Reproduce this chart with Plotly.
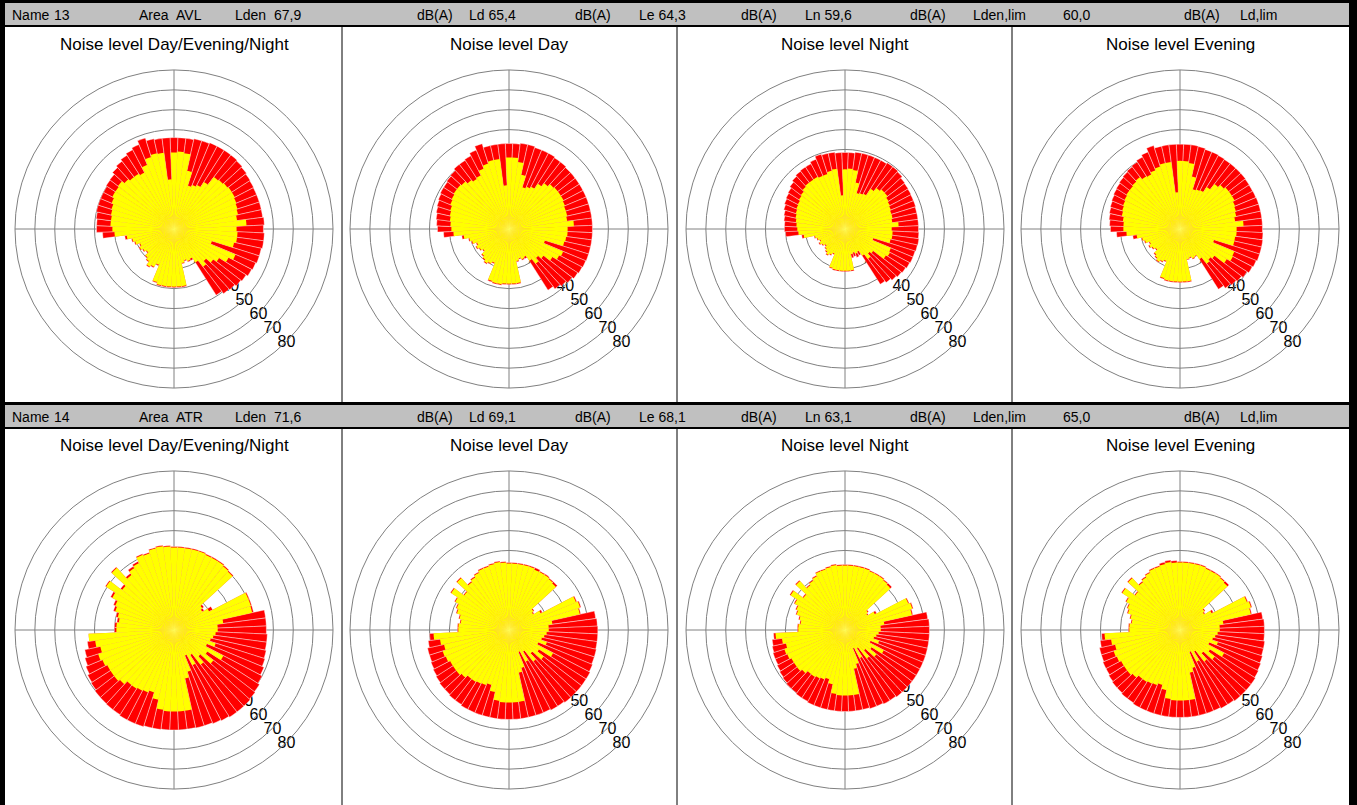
import plotly.graph_objects as go

W, H = 1357, 805
FONT = "Liberation Sans, Arial, sans-serif"
GRID = "#808080"

# ---------------- data -----------------
THETA = list(range(0, 360, 5))  # compass direction of each bin (deg)
TICKS = [10, 20, 30, 40, 50, 60, 70, 80]

TITLES = ["Noise level Day/Evening/Night", "Noise level Day", "Noise level Night", "Noise level Evening"]

HEADER1 = ["Name", "13", "Area", "AVL", "Lden", "67,9", "dB(A)", "Ld 65,4", "dB(A)", "Le 64,3",
           "dB(A)", "Ln 59,6", "dB(A)", "Lden,lim", "60,0", "dB(A)", "Ld,lim"]
HEADER2 = ["Name", "14", "Area", "ATR", "Lden", "71,6", "dB(A)", "Ld 69,1", "dB(A)", "Le 68,1",
           "dB(A)", "Ln 63,1", "dB(A)", "Lden,lim", "65,0", "dB(A)", "Ld,lim"]

# Row 1 (Area AVL)
avl_den_red = [46, 46, 46, 46.5, 46.5, 47, 47, 47, 47, 46.5, 46, 45.5, 45.2, 45, 45, 45, 45, 45.5,
               45, 45.5, 45.5, 45, 45, 44.5, 44, 43, 42.4, 41.5, 41, 39.5, 18, 18, 17, 18, 29.5, 29.5,
               29.5, 29.5, 29.5, 29.5, 28.5, 20, 22, 23, 21, 20, 18, 19, 20, 19, 21, 22, 25, 36,
               39, 39, 39.5, 40, 40, 40, 40, 40.5, 40.7, 42, 43, 44, 45, 46, 48, 46.5, 46, 46]
avl_den_yel = [38.5, 39, 38.5, 30, 23, 24, 25, 28, 33, 33.5, 34, 34.5, 34.5, 34, 33.5, 33, 32, 36.5,
               31.5, 32, 32, 31, 20, 33.5, 31, 27, 25, 22, 24, 20, 17, 17.5, 16.5, 17.5, 29, 29,
               29, 29, 29, 29, 28, 19.5, 21.5, 22.5, 20.5, 19.5, 17.5, 18.5, 19.5, 18.5, 20.5, 21.5, 24, 30,
               31, 32, 32, 32.5, 33, 34, 35, 35, 35.5, 34, 33, 33, 32, 35, 38, 39, 38.7, 25]
avl_day_red = [43, 43, 43.5, 43.5, 43, 43, 43, 42.5, 42.5, 42, 42, 42, 42, 42, 42, 42, 42, 42,
               42, 42, 42, 42, 42, 41.8, 41.5, 41, 40, 39, 38, 36.5, 17, 17, 16, 17, 28, 28,
               28, 28, 28.5, 28.5, 28, 19, 20, 21, 20, 19, 17, 18, 19, 18, 20, 21, 24, 33,
               36, 36.5, 37, 37.5, 38, 38.5, 39, 39, 39.5, 40, 41, 41, 41.5, 43, 45, 43, 43, 43]
avl_day_yel = [36, 36, 34, 28, 22, 23, 24, 27, 29, 30.5, 31, 31, 31, 30.5, 30, 30, 29.5, 32.7,
               29.5, 29.5, 29, 28.5, 19, 29.5, 28.5, 26, 22, 20, 22, 19, 16, 16.5, 15.5, 16.5, 27.5, 27.5,
               27.5, 27.5, 28, 28, 27.5, 18.5, 19.5, 20.5, 19.5, 18.5, 16.5, 17.5, 18.5, 17.5, 19.5, 20.5, 23, 28,
               29, 29.5, 30, 30.5, 31, 32, 32.5, 33, 33, 32.5, 31, 30, 30.5, 33, 34.5, 35.5, 35.5, 22]
avl_night_red = [38.5, 38.5, 39, 39, 39, 39, 39, 39.5, 39.5, 39, 38, 37.7, 37.5, 37.3, 37.3, 37, 37, 37,
                 37, 37.2, 37.5, 37.3, 37, 37, 36.7, 36.2, 35.7, 35, 34, 33, 15, 15.5, 14.5, 15, 21.5, 21.5,
                 21.5, 21.5, 21.5, 21.5, 21, 14, 15, 16, 15, 14, 13, 14, 15, 14, 15, 16, 22, 30,
                 30.5, 30.5, 31, 31.5, 32.3, 33, 33.5, 34, 35, 36, 36.7, 37, 37, 38, 39.5, 39, 39, 38.5]
avl_night_yel = [30, 30.5, 30, 24, 19, 19.5, 20, 24, 26, 27, 27, 26, 25.5, 25, 24.5, 24.5, 24, 27,
                 23.5, 24, 24, 23.5, 15, 25, 25.5, 24.5, 18, 17, 19, 16, 13, 13.5, 12.5, 13, 21, 21,
                 21, 21, 21, 21, 20.5, 13.5, 14.5, 15.5, 14.5, 13.5, 12.5, 13.5, 14.5, 13.5, 14.5, 15.5, 21, 23.5,
                 24, 24.5, 25, 25.5, 26, 26.5, 26.8, 27.5, 28, 29, 29.5, 29.5, 29.6, 29, 29, 30, 30.6, 17]
avl_eve_red = [42.7, 42.7, 42.7, 42.5, 42, 42, 41.7, 41.5, 41.5, 41.5, 41.5, 41.3, 41.2, 41.3, 41.5, 41.5, 41.5, 41.5,
               41.5, 41.8, 42, 42, 42, 41.5, 41, 40, 39, 38.3, 37.5, 36, 16, 16.5, 15.5, 16, 27, 27,
               27, 27, 27, 27, 26.5, 18, 19, 20, 19, 18, 16, 17, 18, 17, 19, 20, 24, 32,
               35, 35.5, 36, 36.4, 36.8, 37.2, 37.7, 38, 38.5, 39, 39.5, 40, 40.8, 42, 44, 42.7, 42.7, 42.7]
avl_eve_yel = [34.3, 34.3, 33.5, 27, 21, 21.5, 22, 25, 28.5, 30, 31, 31, 31, 30, 29.5, 29, 28, 32,
               28.5, 28.5, 28, 28, 18, 29.6, 30, 28, 22, 21, 22, 18, 15.5, 16, 15, 15.5, 26.5, 26.5,
               26.5, 26.5, 26.5, 26.5, 26, 17.5, 18.5, 19.5, 18.5, 17.5, 15.5, 16.5, 17.5, 16.5, 18.5, 19.5, 22, 27,
               28.5, 28.5, 29, 30, 30.5, 31, 31.5, 32, 32, 32.5, 33, 31.5, 31, 32, 33, 34, 34, 18.5]

# Row 2 (Area ATR)
atr_den_red = [42, 42, 42, 42, 42, 41.5, 41.5, 41.5, 41, 40.5, 19, 18, 22, 41, 41, 41, 46.5, 46.5,
               46.5, 47, 47, 47.5, 48, 49, 50, 51, 51.5, 52, 52, 52, 51.5, 51, 50.5, 50.5, 50.3, 50.3,
               50.3, 50.3, 50.5, 50.5, 51, 51, 51, 50.5, 50.5, 50.3, 50.2, 49.5, 49, 48, 47, 46, 44, 43,
               30, 30, 29, 30, 32, 33, 36, 41, 34, 43, 36, 38, 39, 41.5, 41, 42.5, 43, 42.5]
atr_den_yel = [41.5, 41.5, 41.5, 41.5, 41.5, 41, 41, 41, 40.5, 40, 18, 17, 20, 40.5, 40.5, 40.3, 25, 22,
               22, 21, 20, 19, 22, 18, 28, 20, 25, 18, 22, 15, 20, 14, 22, 25, 41, 41,
               41, 41, 40.5, 36, 33, 34, 34.5, 35, 35, 37, 38, 38, 38, 39, 40, 38, 40, 43,
               29, 29, 28, 29, 31, 32, 35, 40.5, 33, 42.5, 35, 37, 38, 41, 40.5, 42, 42.5, 42]
atr_day_red = [34, 34, 34, 34, 34, 34, 33.5, 33.5, 33, 33, 16, 15, 19, 37, 38, 37, 44, 44.5,
               44.7, 44.7, 44.7, 45, 45, 45.5, 46, 46, 46, 46, 46, 45.5, 45.5, 45, 45, 45, 45, 45,
               45, 45, 45, 45, 45, 45, 45, 44.5, 44.5, 44, 44, 43.5, 43, 42.5, 42, 42, 41, 40,
               26, 26, 25, 26, 28, 29, 31, 35, 29, 36, 31, 32, 33, 34, 34, 34.5, 35, 34.5]
atr_day_yel = [33.5, 33.5, 33.5, 33.5, 33.5, 33, 33, 33, 32.5, 32, 15.5, 14.5, 18, 36.5, 37.5, 36.5, 22, 20,
               20, 19, 18, 17, 20, 16, 25, 18, 22, 16, 20, 13, 18, 12, 20, 22, 36.5, 36.5,
               36.5, 36.5, 36, 32, 29, 30, 30.5, 31, 31, 32.5, 33.5, 33.5, 33.5, 34.5, 35, 33.5, 35, 38,
               25.5, 25.5, 24.5, 25.5, 27.5, 28.5, 30.5, 34.5, 28.5, 35.5, 30.5, 31.5, 32.5, 33.5, 33.5, 34, 34.5, 34]
atr_night_red = [33, 33, 33, 33, 33, 32.5, 32.5, 32.5, 32, 32, 15, 14, 18, 35, 36, 35, 42, 42.5,
                 42.5, 42.5, 42.5, 42.5, 42.5, 42.5, 42.5, 42.5, 42.5, 42.5, 42.5, 42, 42, 41.5, 41.5, 41, 41, 41,
                 41, 41, 41, 41, 41, 41, 40.5, 40.5, 40, 40, 39.5, 39, 38.5, 38, 38, 37.5, 37, 36,
                 24, 24, 23, 24, 26, 27, 29, 33, 27, 34, 29, 30, 31, 32.5, 32.5, 33, 33.5, 33]
atr_night_yel = [32.5, 32.5, 32.5, 32.5, 32.5, 32, 32, 32, 31.5, 31, 14.5, 13.5, 17, 34.5, 35.5, 34.5, 20, 18,
                 18, 17, 16, 15, 18, 14, 22, 16, 20, 14, 18, 11, 16, 10, 18, 20, 33, 33,
                 33, 33, 32.5, 28, 26, 27, 27.5, 28, 28, 29.5, 30.5, 30.5, 30.5, 31.5, 32, 30.5, 32, 35,
                 23.5, 23.5, 22.5, 23.5, 25.5, 26.5, 28.5, 32.5, 26.5, 33.5, 28.5, 29.5, 30.5, 32, 32, 32.5, 33, 32.5]
atr_eve_red = [34.5, 34.5, 34.5, 34.5, 34.5, 34, 34, 34, 33.5, 33.5, 16, 15, 19, 37, 38, 37, 42, 42.5,
               42.5, 42.5, 43, 43, 43.5, 44, 44.5, 45, 45, 45, 45, 44.5, 44.5, 44, 44, 44, 44, 44,
               44, 44, 44, 44, 44, 44, 44, 43.5, 43.5, 43, 43, 42.5, 42, 42, 41.5, 41.5, 40.5, 39.5,
               26, 26, 25, 26, 28, 29, 31, 35, 29, 36, 31, 32, 33, 34, 34, 35, 35.5, 35]
atr_eve_yel = [34, 34, 34, 34, 34, 33.5, 33.5, 33.5, 33, 32.5, 15.5, 14.5, 18, 36.5, 37.5, 36.5, 22, 20,
               20, 19, 18, 17, 20, 16, 25, 18, 22, 16, 20, 13, 18, 12, 20, 22, 35.5, 35.5,
               35.5, 35.5, 35, 31, 29, 30, 30.5, 31, 31, 32.5, 33.5, 33.5, 33.5, 34.5, 35, 33.5, 35, 38,
               25.5, 25.5, 24.5, 25.5, 27.5, 28.5, 30.5, 34.5, 28.5, 35.5, 30.5, 31.5, 32.5, 33.5, 33.5, 34, 34.5, 34]

SERIES = [
    (avl_den_red, avl_den_yel), (avl_day_red, avl_day_yel), (avl_night_red, avl_night_yel), (avl_eve_red, avl_eve_yel),
    (atr_den_red, atr_den_yel), (atr_day_red, atr_day_yel), (atr_night_red, atr_night_yel), (atr_eve_red, atr_eve_yel),
]

# ---------------- layout geometry (pixels) -----------------
CX = [174, 509, 845, 1180]
CY = [229, 630]
R = 159
LBL_DX, LBL_DY = 15, -8   # shift of the tick-label layer so labels sit centred on the -45 deg line
HDR_X = [10, 52, 137, 174, 233, 272, 415, 467, 573, 637, 739, 803, 908, 971, 1061, 1182, 1238]
HDR_Y = [15, 417]
TITLE_Y = [45, 445]


def px(x):
    return x / W


def py(y):
    return 1 - y / H


def dom(cx, cy):
    return dict(x=[px(cx - R), px(cx + R)], y=[py(cy + R), py(cy - R)])


fig = go.Figure()
layout = {}
N = len(SERIES)

# label layers first (drawn underneath the bars)
for i in range(N):
    row, col = divmod(i, 4)
    cx, cy = CX[col], CY[row]
    sub = "polar" if i == 0 else f"polar{i + 1}"
    fig.add_trace(go.Scatterpolar(r=[], theta=[], subplot=sub, showlegend=False, hoverinfo="skip", mode="markers"))
    layout[sub] = dict(
        domain=dom(cx + LBL_DX, cy + LBL_DY),
        bgcolor="rgba(0,0,0,0)",
        angularaxis=dict(visible=False, rotation=90, direction="clockwise"),
        radialaxis=dict(range=[0, 80], tickvals=TICKS, showgrid=False, showline=False, ticks="",
                        angle=-45, tickangle=-45, tickfont=dict(family=FONT, size=16, color="black")),
    )

# bar layers
for i, (red, yel) in enumerate(SERIES):
    row, col = divmod(i, 4)
    cx, cy = CX[col], CY[row]
    sub = f"polar{N + i + 1}"
    fig.add_trace(go.Barpolar(theta=THETA, r=red, width=5, subplot=sub, showlegend=False, hoverinfo="skip",
                              marker=dict(color="#FF0000", line=dict(color="white", width=0.4))))
    fig.add_trace(go.Barpolar(theta=THETA, r=yel, width=5, subplot=sub, showlegend=False, hoverinfo="skip",
                              marker=dict(color="#FFFF00", line=dict(color="#FFFF00", width=0))))
    layout[sub] = dict(
        domain=dom(cx, cy),
        barmode="overlay",
        bgcolor="rgba(0,0,0,0)",
        angularaxis=dict(rotation=90, direction="clockwise", dtick=90, showticklabels=False, ticks="",
                         showgrid=True, gridcolor=GRID, gridwidth=1, showline=True, linecolor=GRID, linewidth=1),
        radialaxis=dict(range=[0, 80], tickvals=TICKS, showgrid=True, gridcolor=GRID, gridwidth=1,
                        showline=False, ticks="", showticklabels=False, angle=-45),
    )

shapes = []


def rect(x0, y0, x1, y1, color):
    shapes.append(dict(type="rect", xref="paper", yref="paper", x0=px(x0), x1=px(x1), y0=py(y1), y1=py(y0),
                       fillcolor=color, line=dict(width=0), layer="above"))


# outer black frame
rect(0, 0, 5, H, "black")
rect(1349, 0, W, H, "black")
rect(0, 0, W, 3, "black")
# header bars
rect(5, 3, 1349, 25, "#C0C0C0")
rect(5, 25, 1349, 27, "black")
rect(5, 402, 1349, 405, "black")
rect(5, 405, 1349, 427, "#C0C0C0")
rect(5, 427, 1349, 429, "black")
# panel separators
for x in [342, 677, 1012]:
    shapes.append(dict(type="line", xref="paper", yref="paper", x0=px(x), x1=px(x), y0=py(27), y1=py(402),
                       line=dict(color="black", width=1)))
    shapes.append(dict(type="line", xref="paper", yref="paper", x0=px(x), x1=px(x), y0=py(429), y1=py(H),
                       line=dict(color="black", width=1)))

annotations = []
for hy, hdr in zip(HDR_Y, [HEADER1, HEADER2]):
    for x, t in zip(HDR_X, hdr):
        annotations.append(dict(text=t, x=px(x), y=py(hy), xref="paper", yref="paper", xanchor="left",
                                yanchor="middle", showarrow=False, font=dict(family=FONT, size=14, color="black")))
for ty in TITLE_Y:
    for cx, t in zip(CX, TITLES):
        annotations.append(dict(text=t, x=px(cx), y=py(ty), xref="paper", yref="paper", xanchor="center",
                                yanchor="middle", showarrow=False, font=dict(family=FONT, size=17, color="black")))

fig.update_layout(width=W, height=H, autosize=False, margin=dict(l=0, r=0, t=0, b=0),
                  paper_bgcolor="white", plot_bgcolor="white", shapes=shapes, annotations=annotations,
                  font=dict(family=FONT), **layout)

fig.write_html("out.html", config={"displayModeBar": False, "staticPlot": True},
               post_script="document.body.style.margin='0';document.body.style.overflow='hidden';")
